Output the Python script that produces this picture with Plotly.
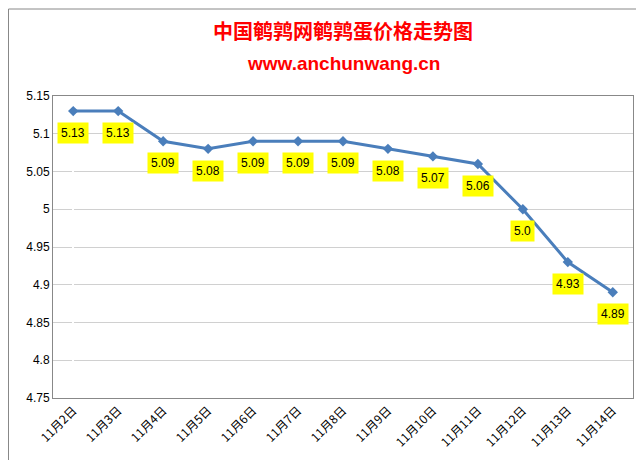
import plotly.graph_objects as go

dates = ["11月2日","11月3日","11月4日","11月5日","11月6日","11月7日","11月8日","11月9日","11月10日","11月11日","11月12日","11月13日","11月14日"]
prices = [5.13,5.13,5.09,5.08,5.09,5.09,5.09,5.08,5.07,5.06,5.00,4.93,4.89]
labels = ["5.13","5.13","5.09","5.08","5.09","5.09","5.09","5.08","5.07","5.06","5.0","4.93","4.89"]
yticks = [4.75,4.8,4.85,4.9,4.95,5,5.05,5.1,5.15]
ytext = ["4.75","4.8","4.85","4.9","4.95","5","5.05","5.1","5.15"]

fig = go.Figure(go.Scatter(x=list(range(len(dates))), y=prices, mode="lines+markers",
    line=dict(color="#4a7ebb", width=3), marker=dict(symbol="diamond", size=8, color="#4a7ebb")))
for i, (p, t) in enumerate(zip(prices, labels)):
    fig.add_annotation(x=i, y=p, text=t, showarrow=False, yshift=-22, bgcolor="#ffff00",
                       font=dict(family="Liberation Sans", size=12, color="black"), borderpad=3)
fig.add_annotation(xref="paper", yref="paper", x=0.5, y=1+66/302, yanchor="middle", showarrow=False,
                   text="<b>中国鹌鹑网鹌鹑蛋价格走势图</b>",
                   font=dict(family="Noto Sans CJK SC", size=20, color="#ff0000"))
fig.add_annotation(xref="paper", yref="paper", x=0.5, y=1+33/302, yanchor="middle", showarrow=False,
                   text="<b>www.anchunwang.cn</b>",
                   font=dict(family="Liberation Sans", size=19, color="#ff0000"))
fig.update_layout(
    width=644, height=460, paper_bgcolor="white", plot_bgcolor="white",
    margin=dict(l=45, r=19, t=88, b=70, autoexpand=False), showlegend=False,
    xaxis=dict(range=[-0.45, 12.45], tickvals=list(range(len(dates))), ticktext=dates, tickangle=-45,
               showgrid=False, showline=True, linecolor="#888", mirror=True, ticks="", automargin=False,
               tickfont=dict(family="Noto Sans CJK SC", size=12, color="black")),
    yaxis=dict(range=[4.75, 5.15], tickvals=yticks, ticktext=ytext, showgrid=True, gridcolor="#d0d0d0",
               showline=True, linecolor="#888", mirror=True, zeroline=False, automargin=False,
               tickfont=dict(family="Liberation Sans", size=12, color="black")),
)
fig.add_shape(type="rect", xref="paper", yref="paper", x0=-44.5/580, x1=1+18/580, y0=-69/302, y1=1+87/302,
              line=dict(color="#888", width=1))
fig.write_html("out.html")
